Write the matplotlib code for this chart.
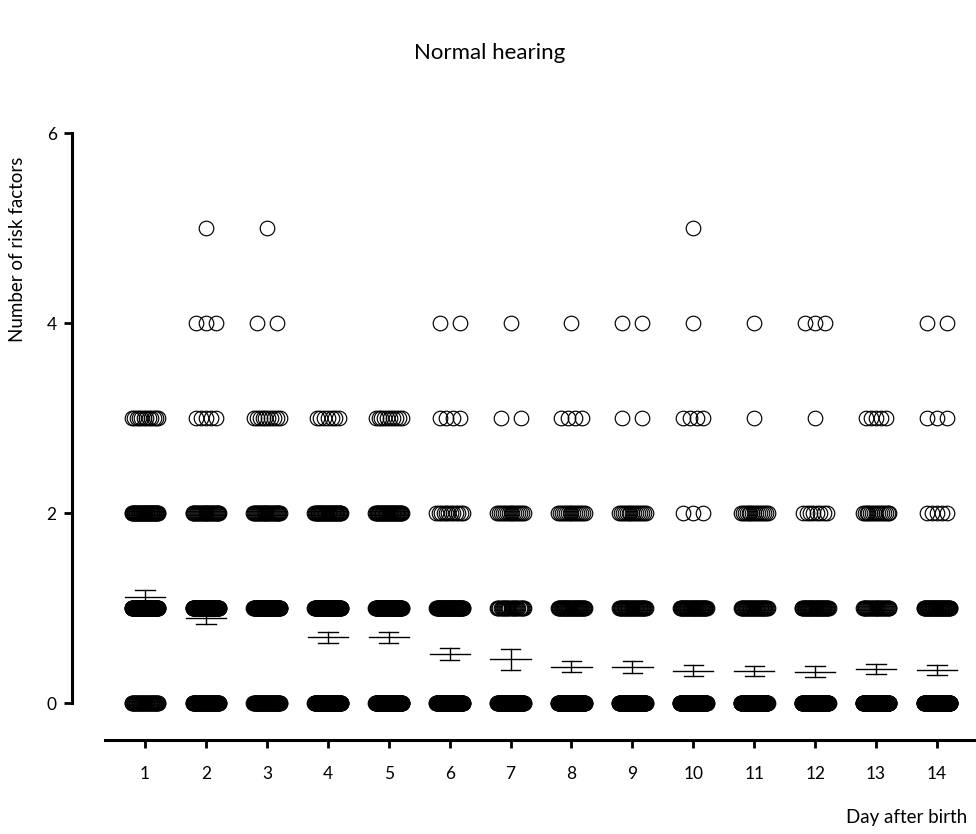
import matplotlib
matplotlib.use("Agg")
import matplotlib.pyplot as plt
import numpy as np

plt.rcParams['font.family'] = ['Lato', 'DejaVu Sans']

# days after birth (x categories)
days = list(range(1, 15))
# possible number of risk factors (y values)
risk_values = [0, 1, 2, 3, 4, 5]

# number of infants at each risk value (0..5) per day
counts_day = [
    [40, 110, 40, 12, 0, 0],   # day 1
    [70, 90, 30, 5, 3, 1],     # day 2
    [60, 80, 30, 10, 2, 1],    # day 3
    [120, 80, 35, 7, 0, 0],    # day 4
    [130, 80, 35, 10, 0, 0],   # day 5
    [120, 60, 12, 4, 2, 0],    # day 6
    [100, 25, 15, 2, 1, 0],    # day 7
    [160, 40, 15, 4, 1, 0],    # day 8
    [155, 35, 15, 2, 2, 0],    # day 9
    [150, 40, 3, 4, 1, 1],     # day 10
    [165, 35, 15, 1, 1, 0],    # day 11
    [165, 40, 8, 1, 3, 0],     # day 12
    [160, 30, 15, 5, 0, 0],    # day 13
    [150, 45, 5, 3, 2, 0],     # day 14
]

# mean and SEM
means = [1.12, 0.90, 1.00, 0.69, 0.69, 0.52, 0.46, 0.38, 0.38, 0.34, 0.34, 0.33, 0.36, 0.35]
sems = [0.066, 0.067, 0.06, 0.063, 0.063, 0.063, 0.11, 0.058, 0.06, 0.058, 0.051, 0.056, 0.054, 0.055]

fig = plt.figure(figsize=(9.76, 8.34), dpi=100)
ax = fig.add_axes([0.1076, 0.1127, 0.8924, 0.7278])


def spread(n):
    # horizontal spread of points sharing one value (column scatter layout)
    if n <= 1:
        return np.zeros(max(n, 0))
    half = 0.165 if n <= 5 else min(0.22, 0.165 + (n - 5) * 0.01)
    return np.linspace(-half, half, n)


for d, counts in zip(days, counts_day):
    for v, n in zip(risk_values, counts):
        if n == 0:
            continue
        xs = d + spread(n)
        ax.plot(xs, np.full(n, v), linestyle='none', marker='o', markersize=10.5,
                markerfacecolor='none', markeredgecolor='black', markeredgewidth=0.85,
                zorder=2)

# mean line and SEM error bars
mean_half = 0.33
cap_half = 0.16
for d, m, s in zip(days, means, sems):
    ax.plot([d - mean_half, d + mean_half], [m, m], color='black', lw=1.0, zorder=3)
    ax.plot([d, d], [m - s, m + s], color='black', lw=1.0, zorder=3)
    ax.plot([d - cap_half, d + cap_half], [m + s, m + s], color='black', lw=1.0, zorder=3)
    ax.plot([d - cap_half, d + cap_half], [m - s, m - s], color='black', lw=1.0, zorder=3)

ax.set_xlim(0.343, 14.64)
ax.set_ylim(-0.389, 6)

ax.set_xticks(days)
ax.set_xticklabels([str(d) for d in days])
ax.set_yticks([0, 2, 4, 6])

for side in ['top', 'right']:
    ax.spines[side].set_visible(False)
ax.spines['left'].set_position(('outward', 23.8))
ax.spines['left'].set_bounds(0, 6)
ax.spines['left'].set_linewidth(2.2)
ax.spines['bottom'].set_linewidth(2.2)

ax.tick_params(axis='y', direction='out', length=6, width=2, labelsize=12.5, pad=5)
ax.tick_params(axis='x', direction='out', length=6, width=2, labelsize=12.5, pad=13)

fig.text(490 / 976, 1 - 53 / 834, 'Normal hearing', ha='center', va='center', fontsize=16)
fig.text(18 / 976, 1 - 249 / 834, 'Number of risk factors', rotation=90,
         ha='center', va='center', fontsize=13.5)
fig.text(967 / 976, 1 - 818 / 834, 'Day after birth', ha='right', va='center', fontsize=13.5)

fig.savefig('out.png', dpi=100)
